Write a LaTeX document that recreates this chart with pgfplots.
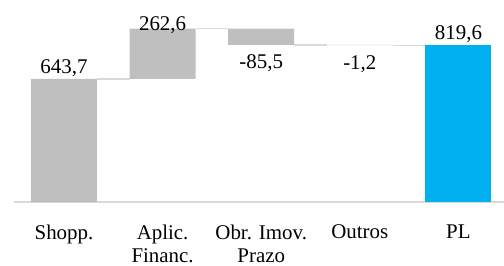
\documentclass[border=0pt]{standalone}
\usepackage{fontspec}
\setmainfont{Liberation Serif}
\usepackage{pgfplots}
\pgfplotsset{compat=1.18}
\definecolor{barg}{HTML}{BFBFBF}
\definecolor{barb}{HTML}{00B0F0}
\definecolor{lin}{HTML}{D9D9D9}
\pgfplotsset{wf/.style={scale only axis, width=490bp, height=191.3bp,
  xmin=-0.507, xmax=4.462, ymin=0, ymax=1000, at={(0,0)}, anchor=south west}}
\begin{document}
\begin{tikzpicture}
\begin{axis}[wf, name=main,
  axis x line*=bottom, hide y axis,
  axis line style={lin, line width=1.3bp},
  xtick={0,1,2,3,4},
  xticklabels={Shopp., {Aplic.\\Financ.}, {Obr. Imov.\\Prazo}, Outros, PL},
  major tick length=0pt,
  xticklabel style={anchor=north, inner sep=0pt, yshift=-22.6bp, align=center,
    font=\fontsize{21}{23.5}\selectfont, text=black},
  ybar stacked, bar width=66bp]
\addplot[fill=none, draw=none] coordinates {(0,0) (1,643.7) (2,820.8) (3,819.6) (4,0)};
\addplot[fill=barg, draw=none] coordinates {(0,643.7) (1,262.6) (2,85.5) (3,1.2) (4,0)};
\addplot[fill=barb, draw=none] coordinates {(0,0) (1,0) (2,0) (3,0) (4,819.6)};
\end{axis}
\begin{axis}[wf, hide axis, clip=false]
\addplot[lin, line width=1.3bp] coordinates {(0.335,643.7) (0.665,643.7)};
\addplot[lin, line width=1.3bp] coordinates {(1.335,906.3) (1.665,906.3)};
\addplot[lin, line width=1.3bp] coordinates {(2.335,820.8) (2.665,820.8)};
\addplot[lin, line width=1.3bp] coordinates {(3.335,819.6) (3.665,819.6)};
\addplot[draw=none, mark=none, nodes near coords, point meta=explicit symbolic,
  every node near coord/.append style={anchor=base, inner sep=0pt, text=black,
    font=\fontsize{21}{23.5}\selectfont}]
  table[meta=lab] {
x y lab
0 674 643,7
1 894 262,6
2 698 -85,5
3 695 -1,2
4 847 819,6
};
\end{axis}
\pgfresetboundingbox
\path (main.south west) ++(-14bp,-64bp) rectangle ++(504bp,266bp);
\end{tikzpicture}
\end{document}
